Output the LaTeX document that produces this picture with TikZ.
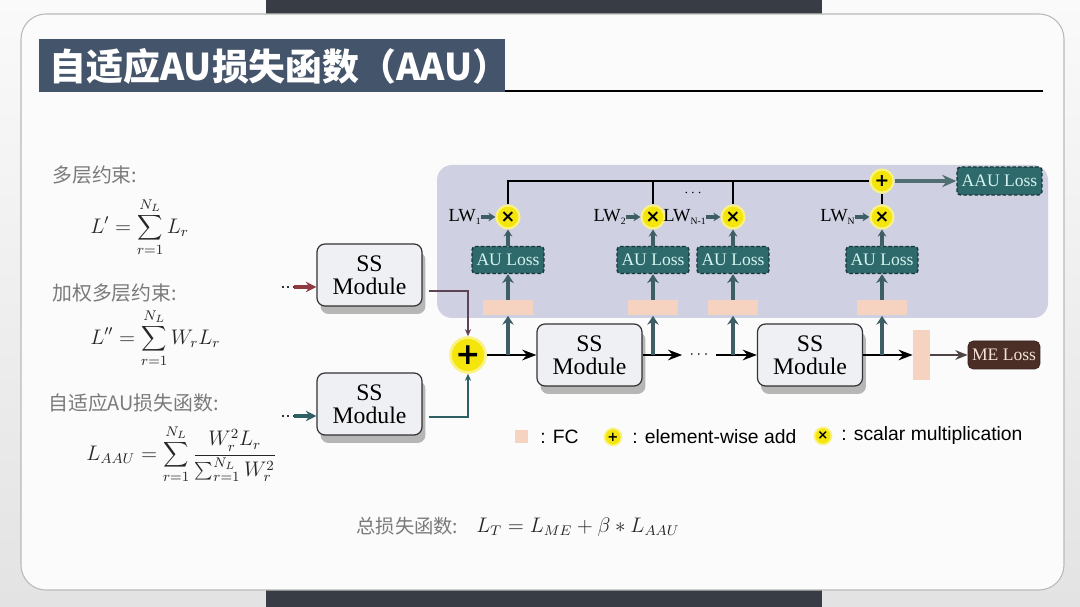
\documentclass[tikz,border=0pt]{standalone}
\usepackage{fontspec}
\setmainfont{Liberation Serif}
\newfontfamily\cjk{Noto Sans CJK SC}
\newfontfamily\lsans{Liberation Sans}
\newfontfamily\dejavu{DejaVu Sans}
\usetikzlibrary{arrows.meta,shadows,calc}
\newcommand\lwsub[1]{\raisebox{-0.35ex}{\fontsize{5.5}{5.5}\selectfont #1}}
\definecolor{titlebg}{HTML}{44546A}
\definecolor{panelc}{HTML}{CFD0E1}
\definecolor{aufill}{HTML}{2E6A6C}
\definecolor{audraw}{HTML}{173436}
\definecolor{autext}{HTML}{D6F3EF}
\definecolor{arrteal}{HTML}{3D5F63}
\definecolor{ylw}{HTML}{F4E60C}
\definecolor{fcc}{HTML}{F6D2C0}
\definecolor{mefill}{HTML}{4B2E26}
\definecolor{metext}{HTML}{F2E2D8}
\definecolor{modfill}{HTML}{EFF0F4}
\definecolor{graytext}{HTML}{7A7A7A}
\definecolor{redarr}{HTML}{8E3A40}
\definecolor{tealarr}{HTML}{2F5F63}
\definecolor{cardc}{HTML}{FBFBFC}
\definecolor{barc}{HTML}{383D45}
\definecolor{purpline}{HTML}{5E4255}
\definecolor{brownarr}{HTML}{4E4444}
\tikzset{
  ssmod/.style={draw=black!80, line width=0.7pt, fill=modfill, rounded corners=0.16cm,
    minimum width=2.1cm, minimum height=1.24cm, align=center, inner sep=0pt,
    font=\fontsize{13.5}{13}\selectfont,
    drop shadow={shadow xshift=0.07cm, shadow yshift=-0.16cm, fill=black!55, opacity=0.5}},
  auloss/.style={draw=audraw, dash pattern=on 2pt off 1.2pt, line width=0.8pt, fill=aufill,
    text=autext, rounded corners=2pt, minimum width=1.44cm, minimum height=0.54cm,
    inner sep=0pt, font=\fontsize{10}{10}\selectfont},
  fcbar/.style={fill=fcc, inner sep=0pt, minimum width=1cm, minimum height=0.3cm},
  ycirc/.style={circle, fill=ylw, draw=ylw!50, line width=1.2pt, inner sep=0pt,
    minimum size=0.46cm, font=\dejavu\bfseries\fontsize{10}{10}\selectfont},
  bigcirc/.style={circle, fill=ylw, draw=ylw!50, line width=1.5pt, inner sep=0pt,
    minimum size=0.7cm, font=\dejavu\bfseries\fontsize{17}{17}\selectfont},
  legcirc/.style={circle, fill=ylw, draw=ylw!50, line width=1pt, inner sep=0pt,
    minimum size=0.34cm, font=\dejavu\bfseries\fontsize{7.5}{7.5}\selectfont},
  lwtxt/.style={anchor=east, inner sep=0pt, font=\fontsize{10.5}{10.5}\selectfont},
  lefttxt/.style={anchor=west, inner sep=0pt, text=graytext, font=\cjk\fontsize{11.3}{11.3}\selectfont},
  formula/.style={anchor=west, inner sep=0pt, text=black!85, font=\fontsize{12}{12}\selectfont},
  legtxt/.style={anchor=west, inner sep=0pt, font=\lsans\fontsize{11}{11}\selectfont},
  mainarr/.style={draw=black, line width=1.7pt, -{Stealth[length=8pt,width=6pt]}},
  uparr/.style={draw=arrteal, line width=2.2pt, -{Stealth[length=5pt,width=6.5pt]}},
  lwarr/.style={draw=arrteal, line width=2pt, -{Stealth[length=4pt,width=5pt]}},
  inarr/.style={line width=2pt, -{Stealth[length=6pt,width=6pt]}},
  thinl/.style={draw=black, line width=0.6pt},
}
\begin{document}
\begin{tikzpicture}[x=0.02cm, y=-0.02cm]
\useasboundingbox (0,0) rectangle (1080,607);
% background
\shade[top color=gray!4, bottom color=gray!22] (0,0) rectangle (1080,607);
\fill[barc] (266,0) rectangle (822,20);
\fill[barc] (266,584) rectangle (822,607);
\draw[fill=cardc, draw=gray!55, line width=0.6pt, rounded corners=0.5cm] (21,14) rectangle (1064,590);
% title
\fill[titlebg] (39,39) rectangle (505,92);
\node[anchor=west, inner sep=0pt, text=white, font=\cjk\bfseries\fontsize{21}{21}\selectfont] (title) at (49,66) {自适应AU损失函数（AAU）};
\draw[black, line width=1.2pt] (505,91) -- (1043,91);

% left formulas
\node[lefttxt] (t1) at (52,175) {多层约束:};
\node[formula] (f1) at (90,227) {$\displaystyle L' = \sum_{r=1}^{N_L} L_r$};
\node[lefttxt] (t2) at (52,293) {加权多层约束:};
\node[formula] (f2) at (90,338) {$\displaystyle L'' = \sum_{r=1}^{N_L} W_r L_r$};
\node[lefttxt] (t3) at (48,403) {自适应AU损失函数:};
\node[formula] (f3) at (86,454) {$\displaystyle L_{AAU} = \sum_{r=1}^{N_L} \frac{W_r^2 L_r}{\sum_{r=1}^{N_L} W_r^2}$};

% panel
\fill[panelc, rounded corners=0.3cm] (437,165) rectangle (1048,318);

% modules
\node[ssmod] (m1) at (369.5,275) {SS\\Module};
\node[ssmod] (m0) at (369.5,404) {SS\\Module};
\node[ssmod] (m2) at (589.5,355) {SS\\Module};
\node[ssmod] (m3) at (810,355) {SS\\Module};

% inputs
\coordinate (in1) at (282,287);
\coordinate (in0) at (282,416);
\draw[dotted, line width=1.1pt, black!80] (in1) -- ++(12,0) coordinate (in1b);
\draw[inarr, redarr] (in1b) -- (m1.west |- in1);
\draw[dotted, line width=1.1pt, black!80] (in0) -- ++(12,0) coordinate (in0b);
\draw[inarr, tealarr] (in0b) -- (m0.west |- in0);

% plus
\node[bigcirc] (plus) at (468,355) {+};
\draw[purpline, line width=0.7pt, -{Stealth[length=4pt,width=3.5pt]}] ([xshift=0.12cm,yshift=-0.32cm]m1.east) -| (plus);
\draw[tealarr, line width=0.7pt, -{Stealth[length=4pt,width=3.5pt]}] ([xshift=0.12cm,yshift=-0.26cm]m0.east) -| (plus);

% main chain
\node[inner sep=0pt, minimum width=0.66cm, minimum height=0.3cm, font=\fontsize{9}{9}\selectfont] (dots1) at (699,355) {$\cdots$};
\node[fill=fcc, inner sep=0pt, minimum width=0.34cm, minimum height=1cm] (fcv) at (921.5,355) {};
\node[draw=mefill!70!black, fill=mefill, text=metext, rounded corners=3pt, inner sep=0pt,
      minimum width=1.44cm, minimum height=0.56cm, font=\fontsize{10}{10}\selectfont] (me) at (1004,355) {ME Loss};
\draw[mainarr] (plus.east) -- (m2.west);
\draw[mainarr] (m2.east) -- (dots1.west);
\draw[mainarr] (dots1.east) -- (m3.west);
\draw[mainarr] (m3.east) -- (fcv.west);
\draw[draw=brownarr, line width=1.6pt, -{Stealth[length=7pt,width=5.5pt]}] (fcv.east) -- (me.west);

\coordinate (j1) at (508,355);
\coordinate (j2) at (653,355);
\coordinate (j3) at (733,355);
\coordinate (j4) at (882,355);

% FC bars in panel
\node[fcbar] (fc1) at (508,308) {};
\node[fcbar] (fc2) at (653,308) {};
\node[fcbar] (fc3) at (733,308) {};
\node[fcbar] (fc4) at (882,308) {};

% AU losses
\node[auloss] (au1) at (508,260) {AU Loss};
\node[auloss] (au2) at (653,260) {AU Loss};
\node[auloss] (au3) at (733,260) {AU Loss};
\node[auloss] (au4) at (882,260) {AU Loss};

% multiplication circles
\node[ycirc] (x1) at (508,217) {×};
\node[ycirc] (x2) at (653,217) {×};
\node[ycirc] (x3) at (733,217) {×};
\node[ycirc] (x4) at (882,217) {×};
\node[ycirc] (ptop) at (882,181) {+};

% arrows in panel
\foreach \i in {1,2,3,4}{
  \draw[uparr] (j\i) -- (fc\i.south);
  \draw[uparr] (fc\i.north) -- (au\i.south);
  \draw[lwarr] (au\i.north) -- (x\i.south);
}

% LW labels
\node[lwtxt] (lw1) at (481,217) {LW\lwsub{1}};
\node[lwtxt] (lw2) at (626,217) {LW\lwsub{2}};
\node[lwtxt] (lw3) at (706,217) {LW\lwsub{N-1}};
\node[lwtxt] (lw4) at (855,217) {LW\lwsub{N}};
\draw[lwarr] (lw1.east) -- (x1.west);
\draw[lwarr] (lw2.east) -- (x2.west);
\draw[lwarr] (lw3.east) -- (x3.west);
\draw[lwarr] (lw4.east) -- (x4.west);

% summation line
\draw[thinl] (x1.north) |- (ptop.west);
\draw[thinl] (x2.north) -- (x2 |- ptop);
\draw[thinl] (x3.north) -- (x3 |- ptop);
\draw[thinl] (x4.north) -- (ptop.south);
\node[inner sep=0pt, font=\fontsize{8}{8}\selectfont] (dots2) at (693,193) {$\cdots$};

% AAU Loss
\node[auloss, minimum width=1.7cm, minimum height=0.56cm] (aau) at (999.5,181) {AAU Loss};
\draw[draw=arrteal!90!white, line width=2.3pt, -{Stealth[length=8pt,width=7pt]}] (ptop.east) -- (aau.west);

% legend
\node[fill=fcc, inner sep=0pt, minimum size=0.26cm] (lfc) at (521.5,436.5) {};
\node[legtxt] (lfct) at (540,437) {: FC};
\node[legcirc] (lplus) at (613,437) {+};
\node[legtxt] (lplust) at (632,437) {: element-wise add};
\node[legcirc] (lx) at (823,436) {×};
\node[legtxt] (lxt) at (841,436) {: scalar multiplication};

% total loss
\node[lefttxt, font=\cjk\fontsize{11}{11}\selectfont] (tot) at (356,526) {总损失函数:};
\node[formula] (totf) at (476,527) {$L_T = L_{ME} + \beta * L_{AAU}$};
\end{tikzpicture}
\end{document}
